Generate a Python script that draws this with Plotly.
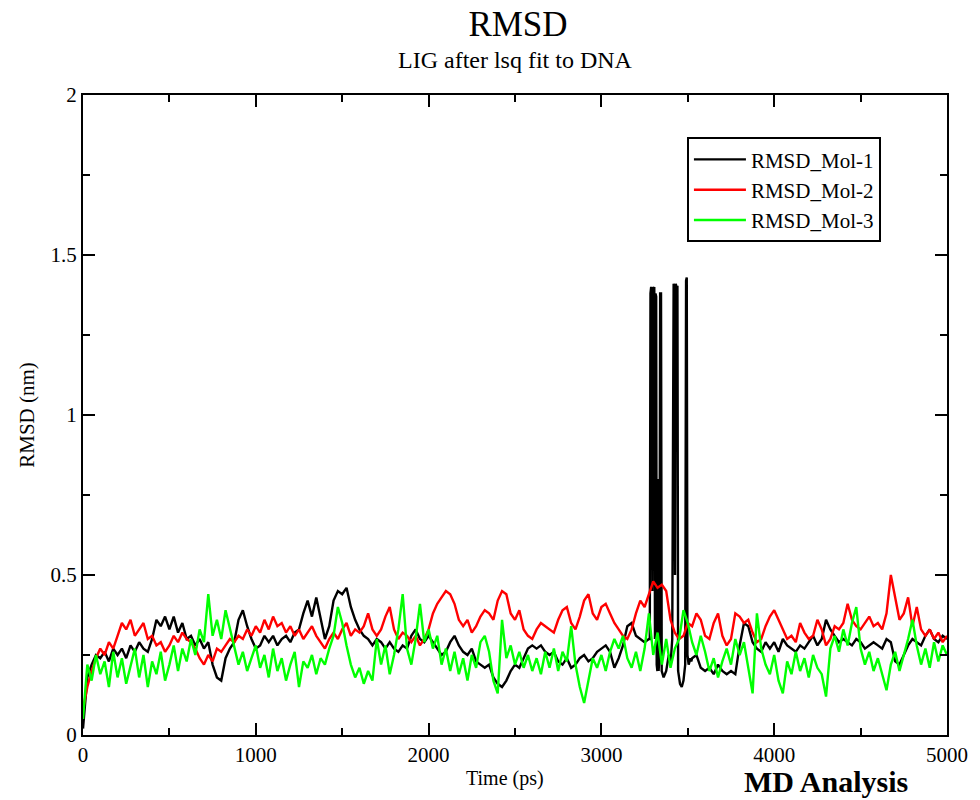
import plotly.graph_objects as go

# Sampling grid (ps) shared by the three series
time_ps = list(range(0, 5001, 25))

rmsd_mol1 = [
    0.02, 0.18, 0.22, 0.25, 0.24, 0.26, 0.23, 0.27,
    0.25, 0.27, 0.24, 0.28, 0.26, 0.29, 0.27, 0.26,
    0.30, 0.36, 0.34, 0.37, 0.33, 0.37, 0.32, 0.35,
    0.30, 0.31, 0.28, 0.30, 0.27, 0.29, 0.22, 0.18,
    0.17, 0.24, 0.27, 0.29, 0.36, 0.39, 0.34, 0.30,
    0.27, 0.28, 0.31, 0.29, 0.31, 0.28, 0.30, 0.31,
    0.29, 0.32, 0.33, 0.38, 0.42, 0.37, 0.43, 0.36,
    0.30, 0.34, 0.42, 0.45, 0.44, 0.46, 0.40, 0.36,
    0.33, 0.31, 0.30, 0.28, 0.30, 0.29, 0.27, 0.29,
    0.27, 0.26, 0.28, 0.27, 0.31, 0.33, 0.30, 0.29,
    0.31, 0.29, 0.27, 0.25, 0.26, 0.29, 0.31, 0.28,
    0.26, 0.25, 0.27, 0.23, 0.22, 0.21, 0.22, 0.18,
    0.16, 0.15, 0.17, 0.20, 0.22, 0.21, 0.24, 0.27,
    0.28, 0.27, 0.28, 0.26, 0.25, 0.26, 0.23, 0.22,
    0.24, 0.21, 0.22, 0.24, 0.25, 0.23, 0.24, 0.26,
    0.27, 0.28, 0.26, 0.21, 0.24, 0.28, 0.34, 0.35,
    0.31, 0.30, 0.29, 0.30, 0.30, 0.20, 0.20, 0.20,
    0.22, 0.30, 0.16, 0.17, 0.25, 0.24, 0.25, 0.21,
    0.20, 0.21, 0.19, 0.22, 0.20, 0.19, 0.20, 0.19,
    0.28, 0.35, 0.34, 0.29, 0.27, 0.26, 0.29, 0.27,
    0.29, 0.26, 0.30, 0.28, 0.27, 0.26, 0.28, 0.27,
    0.29, 0.31, 0.28, 0.30, 0.36, 0.33, 0.31, 0.29,
    0.30, 0.29, 0.28, 0.30, 0.29, 0.27, 0.28, 0.29,
    0.28, 0.27, 0.30, 0.29, 0.23, 0.22, 0.25, 0.28,
    0.30, 0.29, 0.28, 0.31, 0.33, 0.30, 0.29, 0.31,
    0.30,
]

# Finely sampled jump episode of Mol-1 (replaces the grid between 3280 and 3520 ps)
mol1_jump_t = [3280, 3284, 3288, 3292, 3295, 3298, 3302, 3306, 3310, 3313,
               3317, 3320, 3324, 3328, 3331, 3336, 3340, 3345, 3349, 3360,
               3375, 3390, 3400, 3410, 3414, 3418, 3422, 3426, 3430, 3435,
               3440, 3444, 3455, 3465, 3475, 3485, 3490, 3494, 3498, 3505,
               3515, 3520]
mol1_jump_v = [0.30, 1.38, 1.40, 1.39, 0.45, 1.40, 1.39, 1.40, 0.30, 1.38,
               1.37, 0.22, 0.20, 0.80, 0.20, 0.25, 1.38, 1.38, 0.20, 0.18,
               0.20, 0.25, 0.22, 0.30, 1.40, 1.41, 1.40, 0.50, 1.41, 1.40,
               1.40, 0.20, 0.16, 0.15, 0.17, 0.22, 1.42, 1.43, 0.25, 0.22,
               0.24, 0.23]

rmsd_mol2 = [
    0.08, 0.15, 0.20, 0.24, 0.27, 0.25, 0.29, 0.27,
    0.31, 0.35, 0.33, 0.36, 0.31, 0.33, 0.35, 0.30,
    0.31, 0.28, 0.29, 0.26, 0.28, 0.31, 0.29, 0.32,
    0.30, 0.29, 0.27, 0.24, 0.22, 0.25, 0.23, 0.27,
    0.26, 0.28, 0.30, 0.29, 0.31, 0.30, 0.33, 0.31,
    0.34, 0.32, 0.36, 0.33, 0.37, 0.34, 0.35, 0.32,
    0.34, 0.31, 0.33, 0.30, 0.32, 0.34, 0.31, 0.29,
    0.27, 0.30, 0.32, 0.30, 0.33, 0.35, 0.31, 0.33,
    0.32, 0.34, 0.38, 0.33, 0.31, 0.33, 0.37, 0.40,
    0.33, 0.30, 0.32, 0.31, 0.29, 0.31, 0.28, 0.30,
    0.33, 0.38, 0.41, 0.43, 0.45, 0.44, 0.41, 0.36,
    0.34, 0.36, 0.32, 0.34, 0.37, 0.39, 0.38, 0.36,
    0.42, 0.45, 0.44, 0.38, 0.36, 0.39, 0.33, 0.31,
    0.30, 0.33, 0.35, 0.34, 0.33, 0.32, 0.36, 0.39,
    0.40, 0.35, 0.33, 0.37, 0.42, 0.44, 0.38, 0.36,
    0.40, 0.41, 0.38, 0.35, 0.33, 0.31, 0.30, 0.33,
    0.38, 0.42, 0.40, 0.44, 0.48, 0.46, 0.47, 0.45,
    0.36, 0.32, 0.30, 0.31, 0.35, 0.34, 0.38, 0.36,
    0.31, 0.30, 0.35, 0.38, 0.31, 0.28, 0.30, 0.38,
    0.37, 0.35, 0.36, 0.32, 0.29, 0.30, 0.34, 0.37,
    0.39, 0.36, 0.33, 0.30, 0.31, 0.29, 0.35, 0.32,
    0.30, 0.31, 0.36, 0.33, 0.28, 0.30, 0.34, 0.33,
    0.35, 0.41, 0.36, 0.34, 0.33, 0.35, 0.37, 0.34,
    0.35, 0.33, 0.38, 0.50, 0.43, 0.36, 0.38, 0.43,
    0.34, 0.40, 0.33, 0.31, 0.33, 0.30, 0.32, 0.29,
    0.31,
]

rmsd_mol3 = [
    0.05, 0.22, 0.17, 0.25, 0.19, 0.23, 0.15, 0.26,
    0.18, 0.24, 0.16, 0.22, 0.27, 0.18, 0.25, 0.15,
    0.23, 0.19, 0.26, 0.17, 0.22, 0.28, 0.20, 0.27,
    0.23, 0.30, 0.25, 0.33, 0.29, 0.44, 0.31, 0.36,
    0.30, 0.39, 0.33, 0.27, 0.22, 0.26, 0.20, 0.24,
    0.28, 0.21, 0.25, 0.18, 0.27, 0.20, 0.24, 0.17,
    0.22, 0.26, 0.15, 0.23, 0.21, 0.25, 0.19, 0.24,
    0.22, 0.27, 0.31, 0.40, 0.35, 0.28, 0.22, 0.18,
    0.21, 0.16, 0.20, 0.17, 0.30, 0.22, 0.28, 0.19,
    0.25, 0.33, 0.44, 0.27, 0.22, 0.30, 0.41, 0.29,
    0.33, 0.27, 0.31, 0.22, 0.27, 0.20, 0.26, 0.19,
    0.24, 0.17, 0.25, 0.21, 0.29, 0.31, 0.26, 0.17,
    0.13, 0.36, 0.24, 0.28, 0.22, 0.26, 0.21, 0.25,
    0.20, 0.24, 0.19, 0.26, 0.21, 0.27, 0.20, 0.26,
    0.23, 0.34, 0.22, 0.15, 0.10, 0.17, 0.24, 0.21,
    0.25, 0.20, 0.26, 0.30, 0.27, 0.31, 0.24, 0.21,
    0.26, 0.20, 0.27, 0.38, 0.25, 0.32, 0.22, 0.30,
    0.21, 0.27, 0.30, 0.39, 0.35, 0.29, 0.25, 0.31,
    0.26, 0.20, 0.24, 0.18, 0.23, 0.27, 0.22, 0.30,
    0.25, 0.29, 0.21, 0.13, 0.38, 0.27, 0.22, 0.19,
    0.25, 0.17, 0.13, 0.23, 0.19, 0.26, 0.20, 0.24,
    0.18, 0.25, 0.21, 0.19, 0.12, 0.27, 0.31, 0.26,
    0.33, 0.28, 0.35, 0.40, 0.27, 0.22, 0.26, 0.20,
    0.24, 0.19, 0.14, 0.22, 0.26, 0.20, 0.25, 0.30,
    0.36, 0.28, 0.22, 0.27, 0.21, 0.29, 0.23, 0.28,
    0.25,
]

series_names = ["RMSD_Mol-1", "RMSD_Mol-2", "RMSD_Mol-3"]
series_colors = ["#000000", "#ff0000", "#00ff00"]

x_ticks = [0, 1000, 2000, 3000, 4000, 5000]
x_minor = [500, 1500, 2500, 3500, 4500]
y_ticks = [0, 0.5, 1, 1.5, 2]
y_tick_text = ["0", "0.5", "1", "1.5", "2"]
y_minor = [0.25, 0.75, 1.25, 1.75]

# Merge Mol-1 grid with its finely sampled jump episode
lo, hi = mol1_jump_t[0], mol1_jump_t[-1]
pts = [(t, v) for t, v in zip(time_ps, rmsd_mol1) if t < lo or t > hi]
pts += list(zip(mol1_jump_t, mol1_jump_v))
pts.sort()
mol1_t = [p[0] for p in pts]
mol1_v = [p[1] for p in pts]

serif = "Liberation Serif, Times New Roman, serif"

fig = go.Figure()
fig.add_trace(go.Scatter(x=mol1_t, y=mol1_v, mode="lines", name=series_names[0],
                         line=dict(color=series_colors[0], width=2.4)))
fig.add_trace(go.Scatter(x=time_ps, y=rmsd_mol2, mode="lines", name=series_names[1],
                         line=dict(color=series_colors[1], width=2.4)))
fig.add_trace(go.Scatter(x=time_ps, y=rmsd_mol3, mode="lines", name=series_names[2],
                         line=dict(color=series_colors[2], width=2.4)))

axis_common = dict(
    showline=True, linecolor="black", linewidth=2, mirror="ticks",
    ticks="inside", ticklen=12, tickwidth=2, tickcolor="black",
    showgrid=False, zeroline=False,
    tickfont=dict(family=serif, size=21, color="black"),
)

fig.update_xaxes(
    range=[0, 5000], tickvals=x_ticks,
    minor=dict(tickvals=x_minor, ticklen=7, tickwidth=2,
               ticks="inside", tickcolor="black"),
    **axis_common,
)
fig.update_yaxes(
    range=[0, 2], tickvals=y_ticks, ticktext=y_tick_text,
    minor=dict(tickvals=y_minor, ticklen=7, tickwidth=2,
               ticks="inside", tickcolor="black"),
    title=dict(text="RMSD (nm)", font=dict(family=serif, size=21, color="black"), standoff=10),
    **axis_common,
)

# plot area spans page x 83..953, y 95..735
fig.update_layout(
    width=980, height=800,
    margin=dict(l=83, r=27, t=95, b=65),
    paper_bgcolor="white", plot_bgcolor="white",
    title=dict(text="RMSD", x=518 / 980, xanchor="center",
               y=1 - 24 / 800, yanchor="middle",
               font=dict(family=serif, size=35, color="black")),
    legend=dict(x=0.699, y=0.934, xanchor="left", yanchor="top",
                bgcolor="white", bordercolor="black", borderwidth=2,
                font=dict(family=serif, size=21, color="black"),
                itemwidth=52, tracegroupgap=0),
    showlegend=True,
    annotations=[
        dict(text="LIG after lsq fit to DNA", xref="paper", yref="paper",
             x=0.5, y=(735 - 60) / 640, xanchor="center", yanchor="middle",
             showarrow=False, font=dict(family=serif, size=24, color="black")),
        dict(text="Time (ps)", xref="paper", yref="paper",
             x=(508 - 83) / 870, y=(735 - 778) / 640, xanchor="center", yanchor="middle",
             showarrow=False, font=dict(family=serif, size=20, color="black")),
        dict(text="<b>MD Analysis</b>", xref="paper", yref="paper",
             x=(831 - 83) / 870, y=(735 - 800) / 640, xanchor="center", yanchor="bottom",
             showarrow=False, font=dict(family=serif, size=30, color="black")),
    ],
)

fig.write_html("out.html", config={"displayModeBar": False},
               post_script="document.body.style.margin='0px';")
